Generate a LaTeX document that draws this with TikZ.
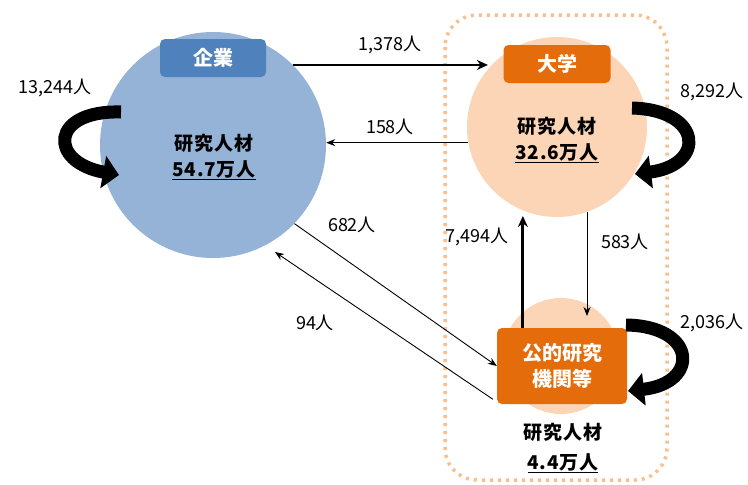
\documentclass[tikz,border=0pt]{standalone}
\usepackage{fontspec}
\setmainfont{Noto Sans CJK JP}
\newfontfamily\spacedfont[LetterSpace=4]{Noto Sans CJK JP}
\usetikzlibrary{arrows.meta,calc}
\definecolor{cofill}{RGB}{149,179,215}
\definecolor{coboxc}{RGB}{79,129,189}
\definecolor{unifill}{RGB}{251,213,181}
\definecolor{orangebox}{RGB}{228,108,10}
\definecolor{dotc}{RGB}{250,191,143}
\begin{document}
\begin{tikzpicture}[x=1pt,y=-1pt,
  bigcircle/.style={circle,inner sep=0pt,draw=none},
  labelbox/.style={rectangle,rounded corners=5pt,inner sep=0pt,text=white,font=\bfseries\fontsize{20}{22}\selectfont},
  restext/.style={align=center,font=\spacedfont\bfseries\fontsize{19}{26}\selectfont,inner sep=0pt},
  numlabel/.style={font=\fontsize{18}{20}\selectfont,inner sep=0pt},
  thinarrow/.style={line width=0.9pt,-{Stealth[length=9pt,width=7pt]}},
  thickarrow/.style={line width=2.8pt,-{Stealth[length=11pt,width=10pt]}},
  loop/.style={line width=13pt,-{Triangle[length=16pt,width=32pt]}}
]
\useasboundingbox (0,0) rectangle (748,485);
% dotted group
\draw[dotc,line width=3.5pt,dash pattern=on 3pt off 5pt,rounded corners=32pt] (445,15) rectangle (667,480);
% circles
\node[bigcircle,fill=cofill,minimum size=226pt] (co) at (213,145) {};
\node[bigcircle,fill=unifill,minimum size=180pt] (uni) at (557,127) {};
\node[bigcircle,fill=unifill,minimum size=116pt] (ic) at (561,356) {};
% label boxes
\node[labelbox,fill=coboxc,minimum width=106pt,minimum height=38pt] (colabel) at (213,58) {企業};
\node[labelbox,fill=orangebox,minimum width=107pt,minimum height=38pt] (unilabel) at (557,64) {大学};
\node[labelbox,fill=orangebox,minimum width=130pt,minimum height=76pt,align=center,font=\bfseries\fontsize{20}{26}\selectfont] (ib) at (562,366) {公的研究\\機関等};
% research texts
\node[restext] (cotext) at (214,157) {研究人材\\\underline{54.7万人}};
\node[restext] (unitext) at (557,140) {研究人材\\\underline{32.6万人}};
\node[restext,font=\spacedfont\bfseries\fontsize{19}{30}\selectfont] (ictext) at (563,448) {研究人材\\\underline{4.4万人}};
% coordinates
\coordinate (a1e) at (co.45 -| uni.140);
\coordinate (b2e) at (co.east |- uni.190);
\coordinate (c1s) at (co.-44);
\coordinate (c1e) at ($(ib.west)+(0,0)$);
\coordinate (d1s) at ($(ib.south west)+(-4,-5)$);
\coordinate (d1e) at (275,252);
\coordinate (e1s) at ($(ib.north west)!0.2!(ib.north east)$);
\coordinate (e1e) at (e1s |- 0,216);
\coordinate (f1s) at (587,212);
\coordinate (f1e) at (587,316);
% connectors
\draw[thickarrow] (co.45) -- (a1e);
\draw[thinarrow] (uni.190) -- (b2e);
\draw[thinarrow] (c1s) -- (c1e);
\draw[thinarrow] (d1s) -- (d1e);
\draw[thickarrow] (e1s) -- (e1e);
\draw[thinarrow] (f1s) -- (f1e);
% self loops
\coordinate (l1s) at (121,112);
\coordinate (l1e) at (119,175);
\draw[loop] (l1s) .. controls (50,110) and (48,162) .. (l1e);
\coordinate (l2s) at (632,108);
\coordinate (l2e) at (635,174);
\draw[loop] (l2s) .. controls (703,110) and (706,165) .. (l2e);
\coordinate (l3s) at (626,325);
\coordinate (l3e) at (628,391);
\draw[loop] (l3s) .. controls (697,326) and (700,383) .. (l3e);
% number labels
\node[numlabel] (n1) at (55,88) {13,244人};
\node[numlabel] (n2) at (390,45) {1,378人};
\node[numlabel] (n3) at (390,127) {158人};
\node[numlabel] (n4) at (352,225) {682人};
\node[numlabel] (n5) at (315,323) {94人};
\node[numlabel] (n6) at (477,237) {7,494人};
\node[numlabel] (n7) at (625,242) {583人};
\node[numlabel] (n8) at (712,92) {8,292人};
\node[numlabel] (n9) at (712,323) {2,036人};
\end{tikzpicture}
\end{document}
